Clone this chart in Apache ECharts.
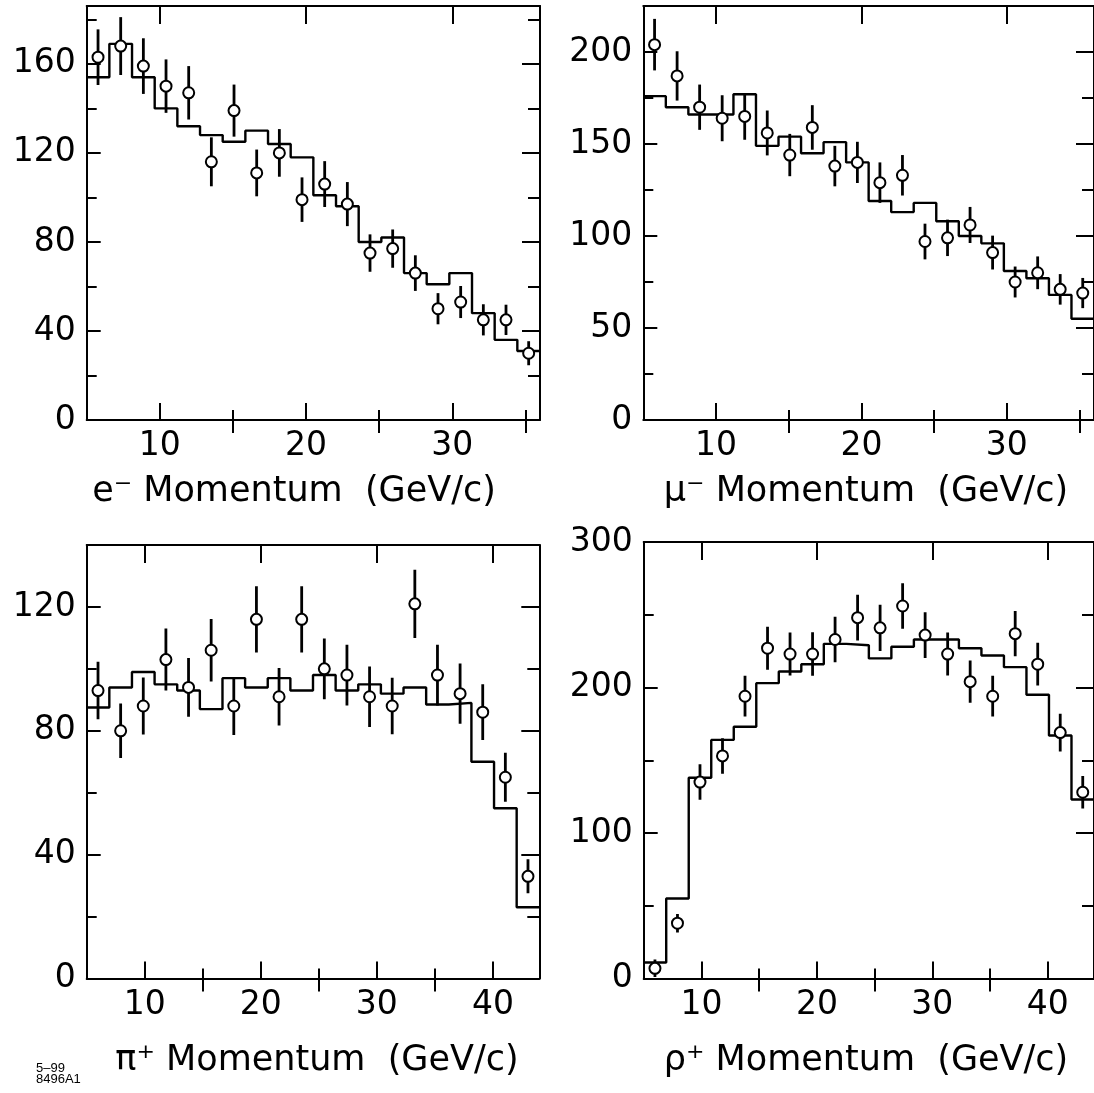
<!DOCTYPE html>
<html>
<head>
<meta charset="utf-8">
<script src="https://cdn.jsdelivr.net/npm/echarts@6/dist/echarts.min.js"></script>
<style>
html,body{margin:0;padding:0;background:#fff;}
#chart{width:1094px;height:1093px;}
</style>
</head>
<body>
<div id="chart"></div>
<script>
// ---- bin edges (GeV/c) ----
const edgesEMu = [5, 6.55, 8.1, 9.65, 11.2, 12.75, 14.3, 15.85, 17.4, 18.95, 20.5, 22.05, 23.6, 25.15, 26.7, 28.25, 29.8, 31.35, 32.9, 34.45, 36];
const edgesPiRho = [5, 6.95, 8.9, 10.85, 12.8, 14.75, 16.7, 18.65, 20.6, 22.55, 24.5, 26.45, 28.4, 30.35, 32.3, 34.25, 36.2, 38.15, 40.1, 42.05, 44];

// ---- e- ----
const eHist = [154, 169, 154, 140, 132, 128, 125, 130, 124, 118, 101, 96, 80, 82, 66, 61, 66, 48, 36, 31];
const ePts  = [163, 168, 159, 150, 147, 116, 139, 111, 120, 99, 106, 97, 75, 77, 66, 50, 53, 45, 45, 30];
const eErr  = [12.5, 13, 12.5, 12, 12, 11, 11.7, 10.5, 10.7, 10, 10.3, 9.9, 8.4, 8.6, 8, 7, 7.2, 7, 6.8, 5.4];

// ---- mu- ----
const muHist = [176, 170, 166, 166, 177, 149, 154, 145, 151, 140, 119, 113, 118, 108, 100, 96, 81, 77, 68, 55];
const muPts  = [204, 187, 170, 164, 165, 156, 144, 159, 138, 140, 129, 133, 97, 99, 106, 91, 75, 80, 71, 69];
const muErr  = [14, 13.4, 12.3, 12.5, 12.7, 12.2, 11.5, 12.1, 11, 11.2, 11, 11, 9.7, 9.9, 9.8, 9.2, 8.4, 8.9, 8.3, 8.2];

// ---- pi+ ----
const piHist = [87.5, 94, 99, 95, 93, 87, 97, 94, 97, 93, 98, 93, 95, 92, 94, 88.5, 89, 70, 55, 23];
const piPts  = [93, 80, 88, 103, 94, 106, 88, 116, 91, 116, 100, 98, 91, 88, 121, 98, 92, 86, 65, 33];
const piErr  = [9.3, 8.8, 9.2, 10, 9.5, 10.1, 9.4, 10.7, 9.3, 10.7, 9.8, 9.8, 9.8, 9.1, 11, 9.8, 9.7, 9, 7.9, 5.5];

// ---- rho+ ----
const rhoHist = [11, 55, 138, 164, 173, 203, 211, 216, 230, 229, 220, 228, 233, 233, 227, 222, 214, 195, 167, 123];
const rhoPts  = [7, 38, 135, 153, 194, 227, 223, 223, 233, 248, 241, 256, 236, 223, 204, 194, 237, 216, 169, 128];
const rhoErr  = [6, 6.3, 12.2, 12.2, 14, 14.8, 14.8, 15, 15.6, 15.7, 15.9, 15.7, 15.7, 14.8, 14.5, 14, 15.5, 14.7, 13, 11.1];

// ---- axis ranges & ticks ----
const xRangeEMu = [5, 36];
const xRangePiRho = [5, 44];
const xMajorEMu = [10, 20, 30];
const xMinorEMu = [15, 25, 35];
const xMajorPiRho = [10, 20, 30, 40];
const xMinorPiRho = [15, 25, 35];

const yMaxE = 186, yMaxMu = 225, yMaxPi = 140, yMaxRho = 300;
const yLabelsE = [0, 40, 80, 120, 160];
const yMinorE = [20, 60, 100, 140, 180];
const yLabelsMu = [0, 50, 100, 150, 200];
const yMinorMu = [25, 75, 125, 175];
const yLabelsPi = [0, 40, 80, 120];
const yMinorPi = [20, 60, 100];
const yLabelsRho = [0, 100, 200, 300];
const yMinorRho = [50, 150, 250];

const titles = ['e\u207B Momentum  (GeV/c)', '\u03BC\u207B Momentum  (GeV/c)', '\u03C0\u207A Momentum  (GeV/c)', '\u03C1\u207A Momentum  (GeV/c)'];
const stamp = ['5\u201399', '8496A1'];

// ---------------------------------------------------------------
const FONT = 'DejaVu Sans';
const grids = [
  {left: 86.7, top: 6, width: 453.3, height: 414},
  {left: 643.3, top: 6, width: 453.3, height: 414},
  {left: 86.7, top: 545, width: 452.6, height: 433.5},
  {left: 643.7, top: 542, width: 452.7, height: 436.5}
];

const panels = [
  {edges: edgesEMu, hist: eHist, pts: ePts, err: eErr, xr: xRangeEMu, xMaj: xMajorEMu, xMin: xMinorEMu, ymax: yMaxE, yLab: yLabelsE, yMin: yMinorE},
  {edges: edgesEMu, hist: muHist, pts: muPts, err: muErr, xr: xRangeEMu, xMaj: xMajorEMu, xMin: xMinorEMu, ymax: yMaxMu, yLab: yLabelsMu, yMin: yMinorMu},
  {edges: edgesPiRho, hist: piHist, pts: piPts, err: piErr, xr: xRangePiRho, xMaj: xMajorPiRho, xMin: xMinorPiRho, ymax: yMaxPi, yLab: yLabelsPi, yMin: yMinorPi},
  {edges: edgesPiRho, hist: rhoHist, pts: rhoPts, err: rhoErr, xr: xRangePiRho, xMaj: xMajorPiRho, xMin: xMinorPiRho, ymax: yMaxRho, yLab: yLabelsRho, yMin: yMinorRho}
];

const lineStyle = {color: '#000', width: 2};
const labelStyle = {color: '#000', fontFamily: FONT, fontSize: 33};

function axisPair(gridIndex, pos, min, max, majorVals, minorVals, majorLen, minorLen, labelVals, showLine) {
  const base = {gridIndex, type: 'value', min, max, position: pos, splitLine: {show: false}, scale: false};
  const major = Object.assign({}, base, {
    axisLine: {show: showLine, onZero: false, lineStyle},
    axisTick: {show: true, inside: true, length: majorLen, customValues: majorVals, lineStyle},
    axisLabel: labelVals ? Object.assign({show: true, customValues: labelVals, margin: (pos === 'left' ? 11 : 10)}, labelStyle) : {show: false}
  });
  const minor = Object.assign({}, base, {
    axisLine: {show: false},
    axisTick: {show: true, inside: true, length: minorLen, customValues: minorVals, lineStyle},
    axisLabel: {show: false}
  });
  return [major, minor];
}

const xAxes = [], yAxes = [], series = [];
panels.forEach((p, i) => {
  xAxes.push(...axisPair(i, 'bottom', p.xr[0], p.xr[1], p.xMaj, p.xMin, 17, 10, p.xMaj, true));
  xAxes.push(...axisPair(i, 'top', p.xr[0], p.xr[1], p.xMaj, p.xMin, 18, 13, null, true));
  const yMajNoZero = p.yLab.filter(v => v > 0 && v < p.ymax);
  yAxes.push(...axisPair(i, 'left', 0, p.ymax, yMajNoZero, p.yMin, 14, 10, p.yLab, true));
  yAxes.push(...axisPair(i, 'right', 0, p.ymax, yMajNoZero, p.yMin, 18, 12, null, true));
  const xi = i * 4, yi = i * 4;

  // histogram (step line through bin edges)
  const histData = p.hist.map((v, k) => [p.edges[k], v]);
  histData.push([p.edges[p.edges.length - 1], p.hist[p.hist.length - 1]]);
  series.push({
    type: 'line', xAxisIndex: xi, yAxisIndex: yi, step: 'end', data: histData,
    showSymbol: false, symbol: 'none', lineStyle: {color: '#000', width: 2.4}, z: 1, silent: true, clip: true
  });

  const centers = p.pts.map((v, k) => (p.edges[k] + p.edges[k + 1]) / 2);
  // error bars
  series.push({
    type: 'custom', xAxisIndex: xi, yAxisIndex: yi, z: 2, clip: true, silent: true,
    data: p.pts.map((v, k) => [centers[k], Math.max(0, v - p.err[k]), v + p.err[k]]),
    encode: {x: 0, y: [1, 2]},
    renderItem: function (params, api) {
      const a = api.coord([api.value(0), api.value(1)]);
      const b = api.coord([api.value(0), api.value(2)]);
      return {type: 'line', shape: {x1: a[0], y1: a[1], x2: b[0], y2: b[1]}, style: {stroke: '#000', lineWidth: 2.8}};
    }
  });
  // points
  series.push({
    type: 'scatter', xAxisIndex: xi, yAxisIndex: yi, z: 3, silent: true,
    data: p.pts.map((v, k) => [centers[k], v]),
    symbol: 'circle', symbolSize: 11,
    itemStyle: {color: '#fff', borderColor: '#000', borderWidth: 2, opacity: 1}
  });
});

const nameStyle = {fill: '#000', fontFamily: FONT, fontSize: 35, textAlign: 'center', textVerticalAlign: 'middle'};
const graphic = [
  {type: 'text', x: 294, y: 492, style: Object.assign({text: titles[0]}, nameStyle)},
  {type: 'text', x: 866, y: 492, style: Object.assign({text: titles[1]}, nameStyle)},
  {type: 'text', x: 317, y: 1061, style: Object.assign({text: titles[2]}, nameStyle)},
  {type: 'text', x: 866, y: 1061, style: Object.assign({text: titles[3]}, nameStyle)},
  {type: 'text', x: 36, y: 1068, style: {text: stamp[0], fill: '#000', fontFamily: 'Liberation Sans', fontSize: 13, textAlign: 'left', textVerticalAlign: 'middle'}},
  {type: 'text', x: 36, y: 1079, style: {text: stamp[1], fill: '#000', fontFamily: 'Liberation Sans', fontSize: 13, textAlign: 'left', textVerticalAlign: 'middle'}}
];

const chart = echarts.init(document.getElementById('chart'), null, {renderer: 'canvas'});
chart.setOption({
  animation: false,
  backgroundColor: '#fff',
  grid: grids.map(g => Object.assign({containLabel: false}, g)),
  xAxis: xAxes,
  yAxis: yAxes,
  series,
  graphic
});
</script>
</body>
</html>
